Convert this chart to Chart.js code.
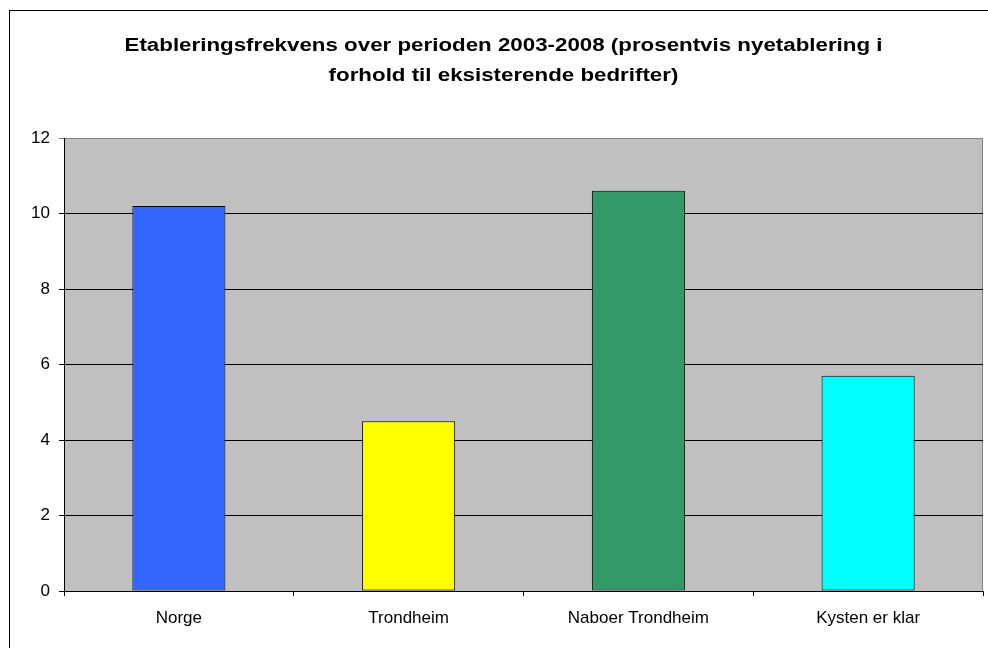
<!DOCTYPE html>
<html>
<head>
<meta charset="utf-8">
<script src="https://cdn.jsdelivr.net/npm/chart.js@4/dist/chart.umd.min.js"></script>
<style>
  html, body { margin: 0; padding: 0; background: #fff; overflow: hidden; }
  #frame { position: absolute; left: 9px; top: 10px; width: 2000px; height: 2000px; border: 1px solid #000; }
  #wrap { position: absolute; left: 0; top: 0; width: 988px; height: 648px; }
  #title {
    position: absolute; left: 24px; top: 30px; width: 959px;
    font: bold 18px "Liberation Sans", Arial, sans-serif; line-height: 30px;
    color: #000; text-align: center;
    transform: scaleX(1.24); transform-origin: center;
  }
</style>
</head>
<body>
<div id="frame"></div>
<div id="wrap"><canvas id="chart" width="988" height="648"></canvas></div>
<div id="title"></div>
<script>
// Data
const categories = ["Norge", "Trondheim", "Naboer Trondheim", "Kysten er klar"];
const values = [10.2, 4.5, 10.6, 5.7];
const barColors = ["#3366FF", "#FFFF00", "#339966", "#00FFFF"];
const yTicks = [0, 2, 4, 6, 8, 10, 12];
const titleLines = [
    "Etableringsfrekvens over perioden 2003-2008 (prosentvis nyetablering i",
    "forhold til eksisterende bedrifter)"
];

// Title as html text (wide lettering like the original)
const titleEl = document.getElementById("title");
titleLines.forEach(line => {
    const d = document.createElement("div");
    d.textContent = line;
    titleEl.appendChild(d);
});

// Gray plot background + gray right edge
const plotBackground = {
    id: "plotBackground",
    beforeDraw(chart) {
        const { ctx, chartArea: a } = chart;
        ctx.save();
        ctx.fillStyle = "#C0C0C0";
        ctx.fillRect(a.left, a.top, a.right - a.left, a.bottom - a.top);
        ctx.strokeStyle = "#808080";
        ctx.lineWidth = 1;
        ctx.beginPath();
        ctx.moveTo(Math.round(a.right) - 0.5, a.top);
        ctx.lineTo(Math.round(a.right) - 0.5, a.bottom);
        ctx.stroke();
        ctx.restore();
    }
};

new Chart(document.getElementById("chart"), {
    type: "bar",
    data: {
        labels: categories,
        datasets: [{
            data: values,
            backgroundColor: barColors,
            borderColor: "#000",
            borderWidth: 1,
            borderSkipped: false,
            barPercentage: 0.405,
            categoryPercentage: 1
        }]
    },
    options: {
        responsive: false,
        animation: false,
        layout: { padding: { left: 24, right: 5, top: 138, bottom: 0 } },
        plugins: {
            legend: { display: false },
            tooltip: { enabled: false },
            title: { display: false }
        },
        scales: {
            x: {
                grid: { drawOnChartArea: false, tickLength: 5, color: "#000", offset: true },
                border: { color: "#000" },
                ticks: {
                    color: "#000",
                    padding: 12,
                    font: { family: "'Liberation Sans', Arial, sans-serif", size: 17 }
                },
                afterFit(scale) { scale.height = 57; }
            },
            y: {
                min: 0,
                max: 12,
                afterBuildTicks(scale) { scale.ticks = yTicks.map(v => ({ value: v })); },
                grid: {
                    tickLength: 5,
                    color: ctx => (ctx.tick && ctx.tick.value === 12 ? "#808080" : "#000")
                },
                border: { color: "#000" },
                ticks: {
                    color: "#000",
                    padding: 9,
                    font: { family: "'Liberation Sans', Arial, sans-serif", size: 17 }
                },
                afterFit(scale) { scale.width = 40; }
            }
        }
    },
    plugins: [plotBackground]
});
</script>
</body>
</html>
